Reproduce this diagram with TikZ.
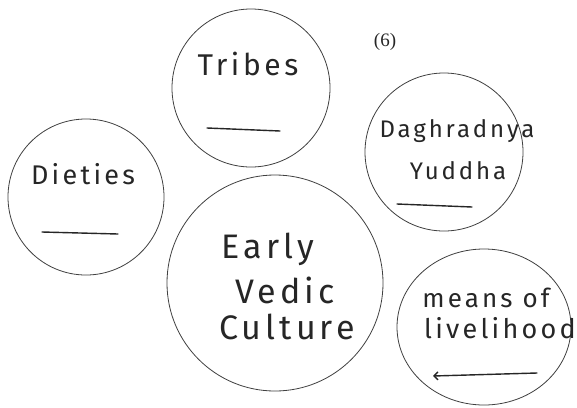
\documentclass[tikz,border=0pt]{standalone}
\usepackage{fontspec}
\setmainfont{Fira Sans}
\newfontfamily\hand[LetterSpace=12]{Fira Sans}
\newfontfamily\numfont{Liberation Serif}
\usetikzlibrary{arrows.meta,shapes.geometric}
\tikzset{
  bubble/.style={circle, draw=black!75, line width=0.8pt, inner sep=0pt},
  handtext/.style={text=black!85, inner sep=0pt, align=center},
  blank/.style={draw=black!85, line width=1.4pt, line cap=round}
}
\begin{document}
\begin{tikzpicture}[x=1pt,y=-1pt]
\useasboundingbox[fill=white] (0,0) rectangle (577,407);

% circles
\node[bubble, minimum size=158pt] (tribes) at (251,88) {};
\node[bubble, minimum size=156pt] (dieties) at (86,197) {};
\node[bubble, minimum size=158pt] (dash) at (444,152) {};
\node[bubble, minimum size=216pt] (evc) at (275,283) {};
\node[bubble, ellipse, minimum width=174pt, minimum height=156pt] (means) at (484,327) {};

% number
\node[handtext, font=\numfont\fontsize{19}{21}\selectfont] (num) at (385,42) {(6)};

% texts
\node[handtext, font=\hand\fontsize{30}{32}\selectfont] (ttribes) at (248,64) {Tribes};
\node[handtext, font=\hand\fontsize{27}{30}\selectfont] (tdieties) at (83,174) {Dieties};
\node[handtext, font=\hand\fontsize{24}{27}\selectfont] (tdash1) at (457,131) {Daghradnya};
\node[handtext, font=\hand\fontsize{24}{27}\selectfont] (tdash2) at (458,171) {Yuddha};
\node[handtext, font=\hand\fontsize{34}{36}\selectfont] (tevc1) at (268,249) {Early};
\node[handtext, font=\hand\fontsize{34}{36}\selectfont] (tevc2) at (285,290) {Vedic};
\node[handtext, font=\hand\fontsize{34}{36}\selectfont] (tevc3) at (287,327) {Culture};
\node[handtext, font=\hand\fontsize{26}{28}\selectfont] (tmeans1) at (486,298) {means of};
\node[handtext, font=\hand\fontsize{27}{29}\selectfont] (tmeans2) at (500,328) {livelihood};

% blanks
\coordinate (b1a) at (207,128); \coordinate (b1b) at (280,131);
\coordinate (b2a) at (42,232);  \coordinate (b2b) at (118,234);
\coordinate (b3a) at (397,204); \coordinate (b3b) at (472,207);
\coordinate (b4a) at (433,376); \coordinate (b4b) at (537,373);
\draw[blank] (b1a) -- (b1b);
\draw[blank] (b2a) -- (b2b);
\draw[blank] (b3a) -- (b3b);
\draw[blank, {Straight Barb[length=4pt]}-] (b4a) -- (b4b);
\end{tikzpicture}
\end{document}
